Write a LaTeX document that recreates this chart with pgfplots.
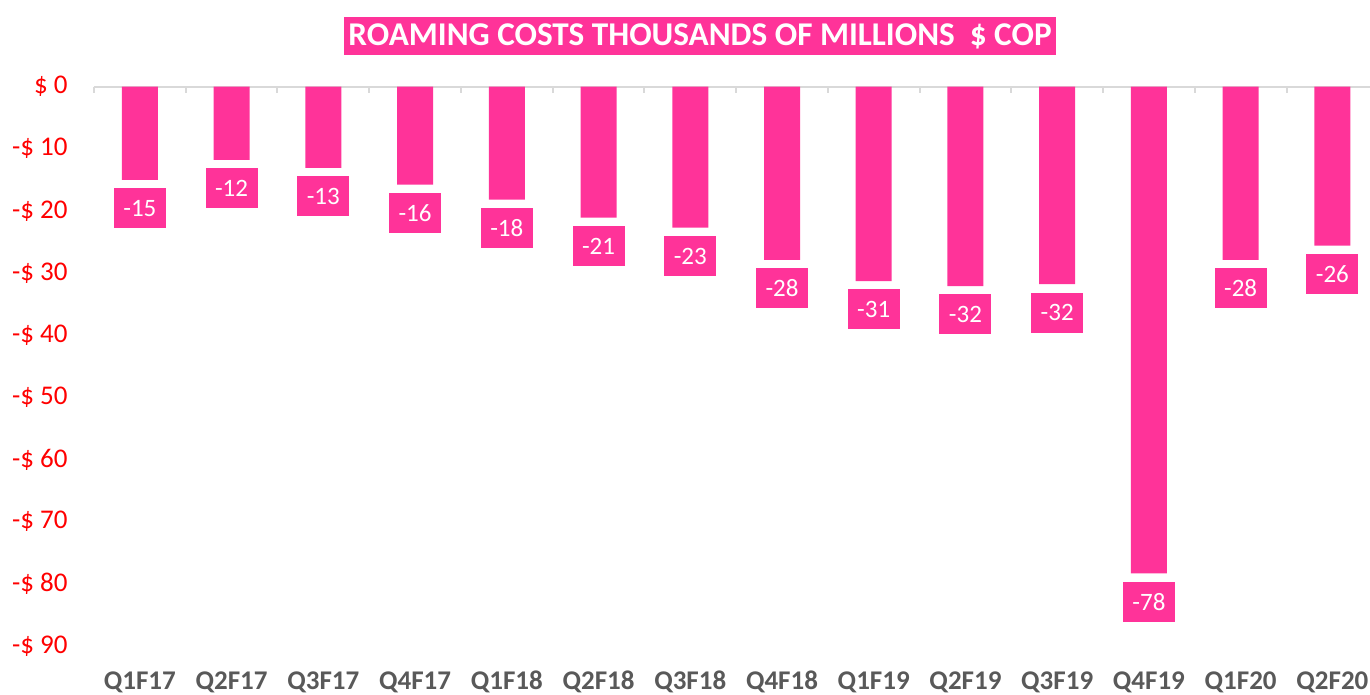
\documentclass[border=0pt]{standalone}
\usepackage{pgfplots}
\pgfplotsset{compat=1.18}
\usepackage{pgfplotstable}
\usepackage{fontspec}
\setmainfont{Carlito}
\definecolor{barpink}{RGB}{255,51,153}
\definecolor{axisgray}{RGB}{217,217,217}
\definecolor{labelgray}{RGB}{89,89,89}
\pgfplotstableread{
x y label
0 -15.0 -15
1 -11.8 -12
2 -13.1 -13
3 -15.8 -16
4 -18.2 -18
5 -21.1 -21
6 -22.7 -23
7 -27.9 -28
8 -31.3 -31
9 -32.1 -32
10 -31.8 -32
11 -78.3 -78
12 -27.9 -28
13 -25.6 -26
}\roaming
\begin{document}
\begin{tikzpicture}
\path[use as bounding box] (-47pt,-24.5pt) rectangle (638pt,323pt);
\begin{axis}[
  at={(0,0)}, anchor=south west,
  scale only axis,
  width=638pt, height=279.75pt,
  xmin=-0.5, xmax=13.41,
  ymin=-90, ymax=0,
  axis line style={draw=none},
  ytick={-90,-80,...,0},
  yticklabels={-\$ 90,-\$ 80,-\$ 70,-\$ 60,-\$ 50,-\$ 40,-\$ 30,-\$ 20,-\$ 10,\$ 0},
  yticklabel style={text=red, font=\fontsize{13.5}{16}\selectfont, anchor=east, inner sep=0pt, xshift=-13pt},
  xtick={0,...,13},
  xticklabels={Q1F17,Q2F17,Q3F17,Q4F17,Q1F18,Q2F18,Q3F18,Q4F18,Q1F19,Q2F19,Q3F19,Q4F19,Q1F20,Q2F20},
  xticklabel style={text=labelgray, font=\bfseries\fontsize{13.5}{16}\selectfont, anchor=base, inner sep=0pt, yshift=-22pt},
  major tick length=0pt,
  clip=false,
]
\draw[axisgray, line width=1pt] (axis cs:-0.5,0) -- (axis cs:13.41,0);
\pgfplotsinvokeforeach{-0.5,0.5,...,12.5}{\draw[axisgray, line width=1pt] (axis cs:#1,0) -- ([yshift=-3pt]axis cs:#1,0);}
\addplot[ybar, bar width=18pt, fill=barpink, draw=none,
  point meta=explicit symbolic,
  nodes near coords,
  every node near coord/.append style={anchor=north, yshift=-4pt, fill=barpink, text=white,
    font=\fontsize{12.5}{15}\selectfont, inner xsep=4.75pt, inner ysep=0pt, minimum height=20pt}
] table[x=x, y=y, meta=label] {\roaming};
\end{axis}
\node[fill=barpink, text=white, font=\bfseries\fontsize{16.6}{20}\selectfont, inner xsep=2pt, inner ysep=0pt, minimum height=19pt] at (303pt,305pt) {ROAMING COSTS THOUSANDS OF MILLIONS \ \$ COP};
\end{tikzpicture}
\end{document}
